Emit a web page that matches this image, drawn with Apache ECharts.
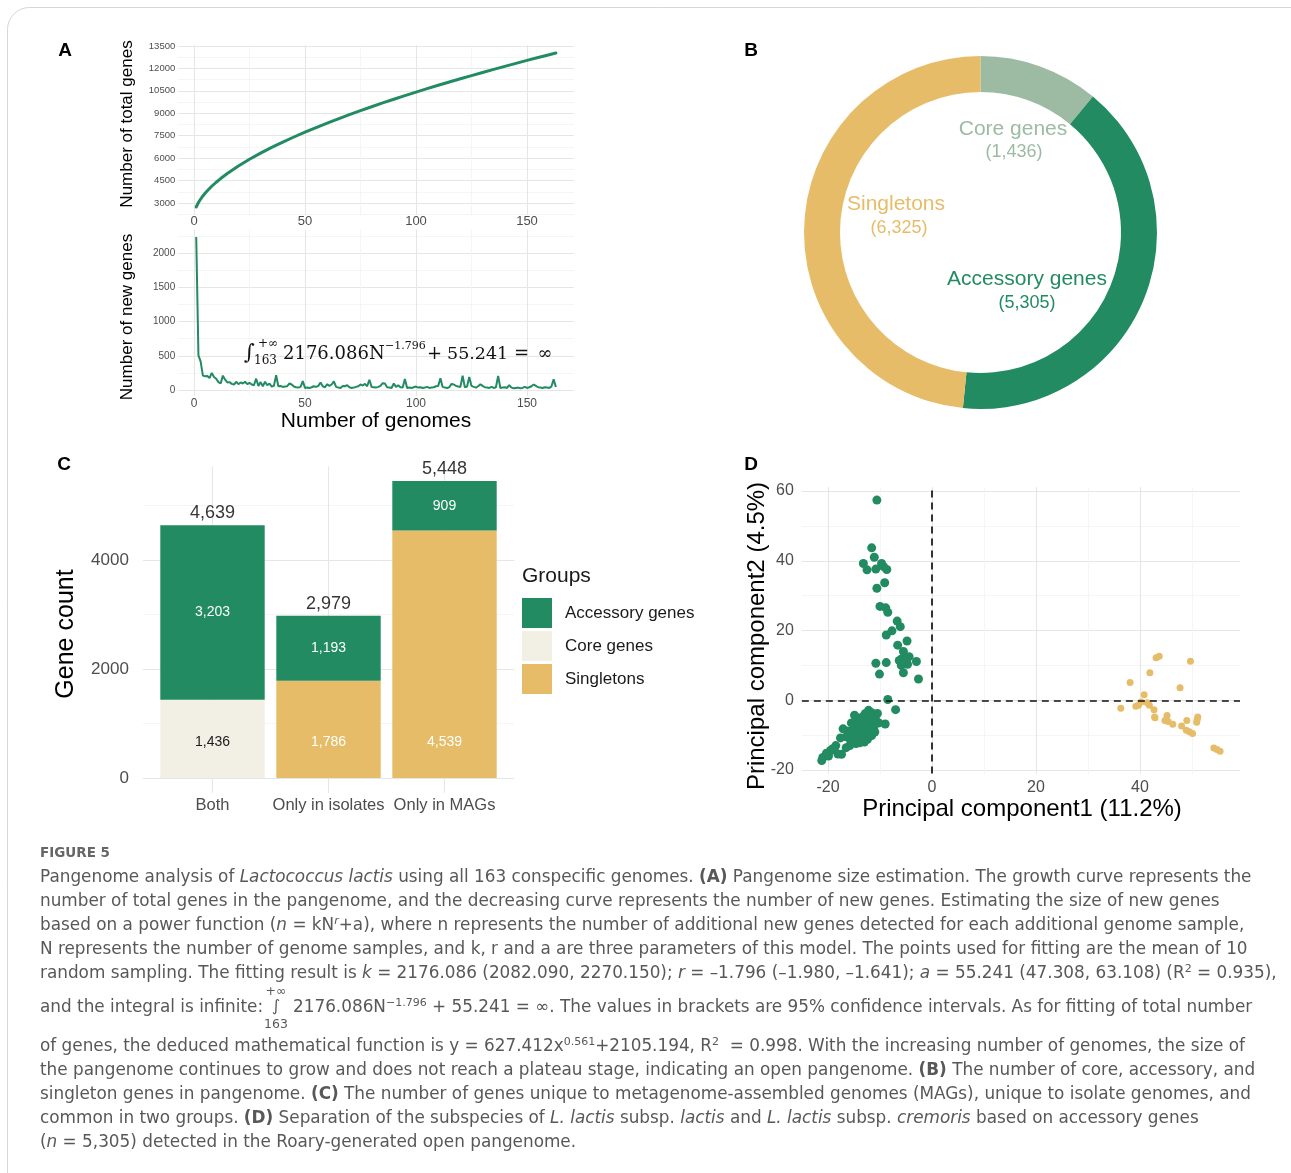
<!DOCTYPE html>
<html>
<head>
<meta charset="utf-8">
<title>Pangenome analysis of Lactococcus lactis</title>
<script src="https://cdn.jsdelivr.net/npm/echarts@6/dist/echarts.min.js"></script>
<style>
  html, body { margin: 0; padding: 0; background: #fff; }
  #chart { width: 1291px; height: 1173px; }
</style>
</head>
<body>
<div id="chart"></div>
<script>
// ---------------- data ----------------
// Panel A: pangenome growth
const genomeTicks = [0, 50, 100, 150];
const totalGeneTicks = [3000, 4500, 6000, 7500, 9000, 10500, 12000, 13500];
const newGeneTicks = [0, 500, 1000, 1500, 2000];

const totalCurveGenomes = [1, 2, 3, 4, 5, 6, 8, 10, 12, 15, 20, 25, 30, 35, 40, 45, 50, 55, 60, 65, 70, 75, 80, 85, 90, 95, 100, 105, 110, 115, 120, 125, 130, 135, 140, 145, 150, 155, 160, 163];
const totalCurveGenes = [2733, 3031, 3267, 3471, 3653, 3820, 4120, 4388, 4634, 4972, 5474, 5923, 6335, 6716, 7075, 7414, 7737, 8047, 8344, 8630, 8908, 9176, 9437, 9691, 9938, 10178, 10414, 10646, 10871, 11092, 11310, 11522, 11732, 11938, 12140, 12339, 12536, 12729, 12920, 13035];

// new genes added by genome 1..163
const newGenes = [
  2233, 505, 415, 210, 200, 205, 175, 250, 190, 165,
  115, 95, 210, 150, 110, 115, 90, 80, 120, 85,
  110, 95, 120, 85, 105, 80, 70, 165, 60, 115,
  55, 120, 70, 95, 50, 60, 215, 55, 60, 45,
  50, 55, 95, 80, 50, 40, 35, 45, 130, 30,
  35, 30, 40, 55, 45, 60, 110, 55, 40, 85,
  60, 80, 125, 45, 35, 30, 60, 55, 70, 40,
  30, 35, 45, 55, 80, 65, 90, 55, 150, 45,
  40, 35, 45, 60, 100, 95, 40, 35, 30, 95,
  45, 70, 40, 35, 160, 30, 35, 30, 40, 50,
  35, 40, 30, 35, 45, 30, 35, 40, 55, 60,
  170, 45, 35, 30, 40, 90, 80, 60, 50, 45,
  210, 40, 50, 190, 60, 45, 35, 55, 85, 60,
  40, 35, 30, 45, 30, 40, 205, 30, 35, 40,
  30, 70, 35, 25, 30, 35, 25, 30, 45, 30,
  40, 55, 80, 60, 40, 35, 30, 40, 35, 30,
  50, 155, 45
];

// Panel B: pangenome composition
const pangenomeGroups = ['Core genes', 'Accessory genes', 'Singletons'];
const pangenomeCounts = [1436, 5305, 6325];

// Panel C: genes by source group
const sharingCategories = ['Both', 'Only in isolates', 'Only in MAGs'];
const accessoryCounts = [3203, 1193, 909];
const coreCounts = [1436, null, null];
const singletonCounts = [null, 1786, 4539];
const geneCountTicks = [0, 2000, 4000];

// Panel D: PCA of accessory genes
const pc1Ticks = [-20, 0, 20, 40];
const pc2Ticks = [-20, 0, 20, 40, 60];
const pcaGreen = [
  [-10.6, 57.4], [-11.6, 43.7], [-11.1, 41.0], [-13.2, 39.2], [-12.5, 37.4], [-10.8, 37.6],
  [-9.7, 39.2], [-9.3, 38.3], [-8.7, 37.5], [-9.1, 33.7], [-10.6, 32.1], [-10.0, 26.9],
  [-8.9, 26.5], [-8.5, 25.2], [-6.7, 22.7], [-6.1, 21.1], [-7.7, 19.9], [-8.8, 18.7],
  [-4.8, 17.0], [-6.6, 15.8], [-5.5, 14.0], [-4.4, 12.5], [-6.3, 11.4], [-5.2, 10.8],
  [-4.7, 10.3], [-3.0, 11.1], [-10.8, 10.6], [-8.8, 10.8], [-10.1, 7.5], [-5.5, 7.9],
  [-2.6, 6.1], [-5.8, 11.9], [-4.9, 11.6], [-5.9, 10.0],
  [-8.5, 0.2], [-7.0, -2.7], [-9.0, -6.8],
  [-12.2, -2.9], [-11.6, -3.6], [-12.8, -3.8], [-11.3, -4.5], [-12.0, -4.6], [-13.1, -4.4],
  [-13.8, -5.1], [-12.5, -5.4], [-11.5, -5.6], [-10.9, -5.2], [-13.3, -6.0], [-12.1, -6.3],
  [-14.2, -6.1], [-11.4, -6.8], [-12.8, -6.9], [-13.7, -7.0], [-14.6, -7.2], [-12.2, -7.5],
  [-11.2, -7.9], [-13.2, -7.8], [-14.1, -8.0], [-12.6, -8.3], [-15.0, -8.2], [-13.6, -8.7],
  [-11.8, -8.8], [-14.5, -9.0], [-12.9, -9.2], [-13.9, -9.6], [-15.1, -9.4], [-12.1, -9.6],
  [-14.3, -10.1], [-13.2, -10.3], [-15.4, -10.4], [-14.0, -10.9], [-12.6, -10.6], [-13.6, -11.4],
  [-14.8, -11.2], [-15.6, -11.8], [-13.9, -12.2], [-14.6, -12.4], [-11.0, -9.1], [-11.6, -10.1],
  [-12.4, -11.2], [-13.0, -12.0], [-15.8, -13.0],
  [-15.5, -6.5], [-16.2, -8.8], [-10.5, -3.8], [-10.2, -6.5], [-16.5, -10.5], [-14.9, -4.3],
  [-17.1, -8.2], [-17.6, -10.8], [-18.5, -13.0], [-19.5, -14.4], [-18.1, -15.4], [-19.9, -16.0],
  [-21.0, -16.4], [-21.2, -17.3], [-19.2, -14.0], [-20.3, -15.2], [-18.8, -13.9], [-17.4, -15.5],
  [-16.5, -13.6]
];
const pcaYellow = [
  [43.1, 12.2], [43.7, 12.6], [49.7, 11.2], [41.9, 7.9], [38.1, 5.1], [47.7, 3.6],
  [40.8, 1.6], [40.2, -0.5], [39.2, -1.7], [39.7, -1.4], [36.3, -2.3], [41.4, -0.7],
  [41.8, -1.4], [42.7, -2.7], [42.8, -4.8], [42.9, -5.0], [45.2, -4.4], [44.8, -5.8],
  [45.4, -6.1], [46.3, -6.9], [49.0, -5.8], [51.1, -4.8], [51.0, -5.5], [50.9, -6.3],
  [48.0, -7.4], [48.9, -8.6], [49.5, -9.0], [50.1, -9.5], [54.2, -13.7], [54.8, -14.1],
  [55.4, -14.6]
];

// ---------------- styling ----------------
const SANS = "'Liberation Sans', Arial, sans-serif";
const SERIF = "'DejaVu Serif', serif";
const CAP = "'DejaVu Sans', sans-serif";
const GREEN = '#228b62';
const YELLOW = '#e6bc68';
const SAGE = '#9dbaa3';
const BEIGE = '#f2efe4';
const TICK_COLOR = '#4d4d4d';
const GRID_MAJOR = '#e6e6e6';
const GRID_MINOR = '#f2f2f2';

// ---------------- helpers ----------------
const fmt = v => v.toLocaleString('en-US');
const sumAt = i => (accessoryCounts[i] || 0) + (coreCounts[i] || 0) + (singletonCounts[i] || 0);
const groupTotals = sharingCategories.map((_, i) => sumAt(i));

// ggplot-style 5% expansion of a data range
function padded(values, frac) {
  const lo = Math.min(...values), hi = Math.max(...values);
  const pad = (hi - lo) * frac;
  return [lo - pad, hi + pad];
}
// minor breaks halfway between major ones (plus one beyond each end)
function minorBreaks(ticks) {
  const step = ticks[1] - ticks[0];
  const out = [ticks[0] - step / 2];
  ticks.forEach(t => out.push(t + step / 2));
  return out;
}
// linear map from value to page pixel through two reference points
function lin(v1, p1, v2, p2) {
  const k = (p2 - p1) / (v2 - v1);
  return v => p1 + (v - v1) * k;
}
function gridRect(xExt, yExt, fx, fy) {
  const l = fx(xExt[0]), r = fx(xExt[1]), t = fy(yExt[1]), b = fy(yExt[0]);
  return { left: l, top: t, width: r - l, height: b - t, containLabel: false, outerBoundsMode: 'none' };
}
function majorAxis(type, gridIndex, ext, ticks, label) {
  return {
    type: 'value', gridIndex, min: ext[0], max: ext[1],
    position: type === 'x' ? 'bottom' : 'left',
    axisLine: { show: false },
    axisTick: { show: false, customValues: ticks },
    axisLabel: Object.assign({ customValues: ticks, color: TICK_COLOR, fontFamily: SANS, formatter: v => String(v) }, label),
    splitLine: { show: true, lineStyle: { color: GRID_MAJOR, width: 1.1 } }
  };
}
function minorAxis(type, gridIndex, ext, ticks) {
  return {
    type: 'value', gridIndex, min: ext[0], max: ext[1],
    position: type === 'x' ? 'bottom' : 'left',
    axisLine: { show: false },
    axisTick: { show: false, customValues: ticks },
    axisLabel: { show: false },
    splitLine: { show: true, lineStyle: { color: GRID_MINOR, width: 0.8 } }
  };
}
function txt(x, y, text, o) {
  o = o || {};
  return {
    type: 'text', x, y, rotation: o.rot || 0, silent: true, z: 100,
    style: {
      text, fill: o.color || '#000', fontSize: o.size || 14, fontFamily: o.family || SANS,
      fontWeight: o.weight || 'normal', fontStyle: o.style || 'normal',
      align: o.align || 'center', verticalAlign: o.valign || 'middle', rich: o.rich
    }
  };
}

// ---------------- extents & layout ----------------
const genomeIdx = newGenes.map((_, i) => i + 1);
const extGenomes = padded(genomeIdx, 0.05);
const extTotal = padded(totalCurveGenes, 0.05);
const extNew = padded(newGenes, 0.05);
const extGroupsX = [0.4, 3.6];
const extBarsX = [0.5, 3.5];
const extCount = padded([0].concat(groupTotals), 0.05);
const allPca = pcaGreen.concat(pcaYellow);
const extPc1 = padded(allPca.map(p => p[0]), 0.05);
const extPc2 = padded(allPca.map(p => p[1]), 0.05);

const fxA = lin(0, 194, 150, 527);
const fyA1 = lin(3000, 203, 13500, 46);
const fyA2 = lin(0, 390, 2000, 253);
const fxC = lin(1, 212.5, 3, 444.5);
const fyC = lin(0, 778, 4000, 560);
const fxD = lin(-20, 828, 40, 1140);
const fyD = lin(-20, 770, 60, 491);

const grids = [
  gridRect(extGenomes, extTotal, fxA, fyA1),   // 0 A top
  gridRect(extGenomes, extNew, fxA, fyA2),     // 1 A bottom
  gridRect(extGroupsX, extCount, fxC, fyC),    // 2 C background
  gridRect(extBarsX, extCount, fxC, fyC),      // 3 C bars
  gridRect(extPc1, extPc2, fxD, fyD)           // 4 D
];

const xAxes = [
  majorAxis('x', 0, extGenomes, genomeTicks, { fontSize: 13, margin: 0 }),
  minorAxis('x', 0, extGenomes, minorBreaks(genomeTicks)),
  majorAxis('x', 1, extGenomes, genomeTicks, { fontSize: 12, margin: 2 }),
  minorAxis('x', 1, extGenomes, minorBreaks(genomeTicks)),
  majorAxis('x', 2, extGroupsX, [1, 2, 3], { fontSize: 16.5, margin: 4, formatter: v => sharingCategories[Math.round(v) - 1] }),
  { type: 'category', gridIndex: 3, data: sharingCategories, boundaryGap: true, show: false },
  majorAxis('x', 4, extPc1, pc1Ticks, { fontSize: 16, margin: 6 }),
  minorAxis('x', 4, extPc1, minorBreaks(pc1Ticks))
];
const yAxes = [
  majorAxis('y', 0, extTotal, totalGeneTicks, { fontSize: 9.5, margin: 3 }),
  minorAxis('y', 0, extTotal, minorBreaks(totalGeneTicks)),
  majorAxis('y', 1, extNew, newGeneTicks, { fontSize: 10, margin: 3 }),
  minorAxis('y', 1, extNew, minorBreaks(newGeneTicks)),
  majorAxis('y', 2, extCount, geneCountTicks, { fontSize: 17, margin: 14 }),
  minorAxis('y', 2, extCount, minorBreaks(geneCountTicks)),
  { type: 'value', gridIndex: 3, min: extCount[0], max: extCount[1], show: false, splitLine: { show: false } },
  majorAxis('y', 4, extPc2, pc2Ticks, { fontSize: 16, margin: 8 }),
  minorAxis('y', 4, extPc2, minorBreaks(pc2Ticks))
];

// ---------------- series ----------------
const barLabel = { fontFamily: SANS, fontSize: 14 };
const series = [
  {
    type: 'line', name: 'Total genes', xAxisIndex: 0, yAxisIndex: 0,
    data: totalCurveGenomes.map((n, i) => [n, totalCurveGenes[i]]),
    smooth: false, showSymbol: false, silent: true,
    lineStyle: { color: GREEN, width: 3, cap: 'round', join: 'round' }, itemStyle: { color: GREEN }
  },
  {
    type: 'line', name: 'New genes', xAxisIndex: 2, yAxisIndex: 2,
    data: newGenes.map((v, i) => [i + 1, v]),
    showSymbol: false, silent: true,
    lineStyle: { color: GREEN, width: 2 }, itemStyle: { color: GREEN }
  },
  {
    type: 'pie', name: 'Pangenome', center: [980.5, 232.5], radius: [140.5, 176.5],
    startAngle: 90, clockwise: true, silent: true, avoidLabelOverlap: false,
    label: { show: false }, labelLine: { show: false },
    data: pangenomeGroups.map((n, i) => ({ name: n, value: pangenomeCounts[i], itemStyle: { color: [SAGE, GREEN, YELLOW][i] } }))
  },
  {
    type: 'bar', name: 'Singletons', stack: 'genes', xAxisIndex: 5, yAxisIndex: 6,
    barWidth: '90%', data: singletonCounts, itemStyle: { color: YELLOW }, silent: true,
    label: Object.assign({ show: true, position: 'insideBottom', distance: 29, color: '#fff', formatter: p => fmt(p.value) }, barLabel)
  },
  {
    type: 'bar', name: 'Core genes', stack: 'genes', xAxisIndex: 5, yAxisIndex: 6,
    barWidth: '90%', data: coreCounts, itemStyle: { color: BEIGE }, silent: true,
    label: Object.assign({ show: true, position: 'insideBottom', distance: 29, color: '#1a1a1a', formatter: p => fmt(p.value) }, barLabel)
  },
  {
    type: 'bar', name: 'Accessory genes', stack: 'genes', xAxisIndex: 5, yAxisIndex: 6,
    barWidth: '90%', data: accessoryCounts, itemStyle: { color: GREEN }, silent: true,
    label: Object.assign({ show: true, position: 'inside', color: '#fff', formatter: p => fmt(p.value) }, barLabel)
  },
  {
    type: 'scatter', name: 'Total', xAxisIndex: 5, yAxisIndex: 6, symbolSize: 0, silent: true,
    data: groupTotals,
    label: { show: true, position: 'top', distance: 3, color: '#000', fontFamily: SANS, fontSize: 18, formatter: p => fmt(p.value) }
  },
  {
    type: 'scatter', name: 'PCA green', xAxisIndex: 6, yAxisIndex: 7, data: pcaGreen,
    symbolSize: 9, itemStyle: { color: GREEN, opacity: 1 }, silent: true,
    markLine: {
      silent: true, symbol: ['none', 'none'], label: { show: false }, animation: false,
      lineStyle: { color: '#111', width: 1.7, type: [7, 5] },
      data: [{ xAxis: 0 }, { yAxis: 0 }]
    }
  },
  {
    type: 'scatter', name: 'PCA yellow', xAxisIndex: 6, yAxisIndex: 7, data: pcaYellow,
    symbolSize: 7, itemStyle: { color: YELLOW, opacity: 1 }, silent: true
  }
];

// ---------------- annotations ----------------
const graphics = [];
// figure frame
graphics.push({ type: 'rect', silent: true, z: 0, shape: { x: 7.5, y: 7.5, width: 1400, height: 1300, r: 22 },
  style: { fill: 'none', stroke: '#d6d6d6', lineWidth: 1 } });

// panel letters
[['A', 65, 51], ['B', 751, 51], ['C', 64, 465], ['D', 751, 465]].forEach(([t, x, y]) =>
  graphics.push(txt(x, y, t, { size: 19, weight: 'bold' })));

// panel A titles
graphics.push(txt(127, 124, 'Number of total genes', { size: 17, rot: Math.PI / 2 }));
graphics.push(txt(127, 317, 'Number of new genes', { size: 17, rot: Math.PI / 2 }));
graphics.push(txt(376, 421, 'Number of genomes', { size: 21 }));

// panel A integral
const fSerif = { family: SERIF, color: '#111' };
graphics.push(txt(249.5, 354, '\u222B', Object.assign({ size: 21 }, fSerif)));
graphics.push(txt(258, 344, '+\u221E', Object.assign({ size: 12, align: 'left' }, fSerif)));
graphics.push(txt(254, 361, '163', Object.assign({ size: 12, align: 'left' }, fSerif)));
graphics.push(txt(283, 354, '2176.086N', Object.assign({ size: 18, align: 'left' }, fSerif)));
graphics.push(txt(385, 346, '\u22121.796', Object.assign({ size: 11, align: 'left' }, fSerif)));
graphics.push(txt(434.5, 354, '+', Object.assign({ size: 18 }, fSerif)));
graphics.push(txt(447, 354, '55.241', Object.assign({ size: 17.5, align: 'left' }, fSerif)));
graphics.push(txt(521.5, 354, '=', Object.assign({ size: 18 }, fSerif)));
graphics.push(txt(545, 354, '\u221E', Object.assign({ size: 18 }, fSerif)));

// panel B labels (order follows pangenomeGroups)
const pieLabelAt = [[1013, 129, 1014, 152], [1027, 279, 1027, 303], [896, 204, 899, 228]];
pangenomeGroups.forEach((name, i) => {
  const c = [SAGE, GREEN, YELLOW][i];
  const p = pieLabelAt[i];
  graphics.push(txt(p[0], p[1], name, { size: 21, color: c }));
  graphics.push(txt(p[2], p[3], '(' + fmt(pangenomeCounts[i]) + ')', { size: 18, color: c }));
});

// panel C titles
graphics.push(txt(66, 634, 'Gene count', { size: 25, rot: Math.PI / 2 }));
graphics.push(txt(522, 576, 'Groups', { size: 21, align: 'left', color: '#1a1a1a' }));

// panel D titles
graphics.push(txt(1022, 809, 'Principal component1 (11.2%)', { size: 24 }));
graphics.push(txt(757, 636, 'Principal component2 (4.5%)', { size: 24, rot: Math.PI / 2 }));

// caption
const CAP_SIZE = 16.85, CAP_COLOR = '#585858';
const capStyle = { fontFamily: CAP, fontSize: CAP_SIZE, fill: CAP_COLOR };
const capRich = {
  i: Object.assign({}, capStyle, { fontStyle: 'italic' }),
  b: Object.assign({}, capStyle, { fontWeight: 'bold' }),
  sup: Object.assign({}, capStyle, { fontSize: 11, padding: [0, 0, 9, 0] }),
  isup: Object.assign({}, capStyle, { fontSize: 11, fontStyle: 'italic', padding: [0, 0, 9, 0] })
};
const cap = (x, y, text) => txt(x, y, text, { size: CAP_SIZE, family: CAP, color: CAP_COLOR, align: 'left', rich: capRich });
graphics.push(txt(40, 853, 'FIGURE 5', { size: 13.5, family: CAP, weight: 'bold', color: '#666', align: 'left' }));
const captionTop = [
  'Pangenome analysis of {i|Lactococcus lactis} using all 163 conspecific genomes. {b|(A)} Pangenome size estimation. The growth curve represents the',
  'number of total genes in the pangenome, and the decreasing curve represents the number of new genes. Estimating the size of new genes',
  'based on a power function ({i|n} = kN{isup|r}+a), where n represents the number of additional new genes detected for each additional genome sample,',
  'N represents the number of genome samples, and k, r and a are three parameters of this model. The points used for fitting are the mean of 10',
  'random sampling. The fitting result is {i|k} = 2176.086 (2082.090, 2270.150); {i|r} = \u20131.796 (\u20131.980, \u20131.641); {i|a} = 55.241 (47.308, 63.108) (R{sup|2} = 0.935),'
];
captionTop.forEach((t, i) => graphics.push(cap(40, 878 + i * 24, t)));
graphics.push(cap(40, 1008, 'and the integral is infinite: '));
graphics.push(txt(276, 1007, '\u222B', { size: 16, family: CAP, color: CAP_COLOR }));
graphics.push(txt(276, 992, '+\u221E', { size: 12.5, family: CAP, color: CAP_COLOR }));
graphics.push(txt(276, 1025, '163', { size: 12.5, family: CAP, color: CAP_COLOR }));
graphics.push(cap(293, 1008, '2176.086N{sup|\u22121.796} + 55.241 = \u221E. The values in brackets are 95% confidence intervals. As for fitting of total number'));
const captionBottom = [
  'of genes, the deduced mathematical function is y = 627.412x{sup|0.561}+2105.194, R{sup|2}  = 0.998. With the increasing number of genomes, the size of',
  'the pangenome continues to grow and does not reach a plateau stage, indicating an open pangenome. {b|(B)} The number of core, accessory, and',
  'singleton genes in pangenome. {b|(C)} The number of genes unique to metagenome-assembled genomes (MAGs), unique to isolate genomes, and',
  'common in two groups. {b|(D)} Separation of the subspecies of {i|L. lactis} subsp. {i|lactis} and {i|L. lactis} subsp. {i|cremoris} based on accessory genes',
  '({i|n} = 5,305) detected in the Roary-generated open pangenome.'
];
captionBottom.forEach((t, i) => graphics.push(cap(40, 1047 + i * 24, t)));

// ---------------- chart ----------------
const chart = echarts.init(document.getElementById('chart'), null, { renderer: 'canvas' });
chart.setOption({
  animation: false,
  backgroundColor: '#fff',
  textStyle: { fontFamily: SANS },
  grid: grids,
  xAxis: xAxes,
  yAxis: yAxes,
  legend: {
    data: ['Accessory genes', 'Core genes', 'Singletons'],
    orient: 'vertical', left: 522, top: 598, padding: 0,
    itemWidth: 30, itemHeight: 30, itemGap: 3, icon: 'rect',
    selectedMode: false,
    textStyle: { fontFamily: SANS, fontSize: 17, color: '#1a1a1a', padding: [0, 0, 0, 8] }
  },
  series,
  graphic: { elements: graphics }
});
</script>
</body>
</html>
